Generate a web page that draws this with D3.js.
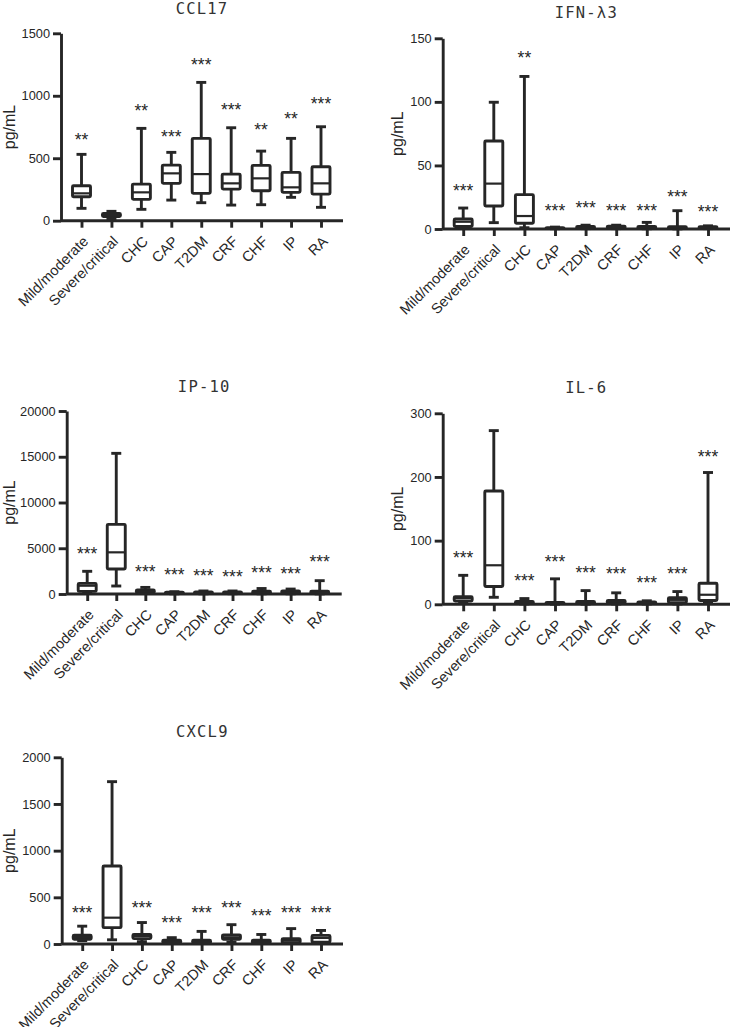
<!DOCTYPE html>
<html>
<head>
<meta charset="utf-8">
<script src="https://cdn.jsdelivr.net/npm/d3@7"></script>
<style>
  body { margin: 0; background: #fff; }
  svg { display: block; }
</style>
</head>
<body>
<div id="chart"></div>
<script>
// categories shared by every panel
const categories = ['Mild/moderate', 'Severe/critical', 'CHC', 'CAP', 'T2DM', 'CRF', 'CHF', 'IP', 'RA'];

// box stats per category: [min, q1, median, q3, max]
const ccl17Stats = [[99,192,219,280,531],[15,33,45,58,75],[91,171,227,293,739],[165,299,379,445,547],
  [144,219,373,659,1107],[125,253,299,373,744],[128,240,339,443,557],[187,227,267,387,659],[107,213,299,432,752]];
const ccl17Stars = ['**','','**','***','***','***','**','**','***'];
const ccl17StarY = [677,0,907,704,1280,917,757,845,965];
const ccl17Ticks = [0,500,1000,1500];

const ifnStats = [[0.8,2,5.7,7.9,16.5],[5,18.1,35.7,69.2,99.7],[1,4.5,10.2,27,120],[0.2,0.4,0.7,1,1.5],
  [0.3,0.8,1.3,2,3],[0.3,1,1.5,2.2,3],[0.2,0.7,1.2,2,5.2],[0.1,0.5,1,1.8,14.4],[0.3,0.8,1.2,1.8,2.5]];
const ifnStars = ['***','','**','***','***','***','***','***','***'];
const ifnStarY = [33.3,0,137.4,17.6,19.7,17.6,17.6,28.6,16.3];
const ifnTicks = [0,50,100,150];

const ip10Stats = [[100,284,907,1158,2480],[874,2732,4554,7614,15373],[50,150,250,437,720],[20,70,120,200,250],
  [20,80,140,220,330],[30,90,150,220,330],[20,100,170,300,600],[20,100,200,320,540],[10,70,150,300,1457]];
const ip10Stars = ['***','','***','***','***','***','***','***','***'];
const ip10StarY = [4809,0,2805,2514,2441,2259,2696,2587,3971];
const ip10Ticks = [0,5000,10000,15000,20000];

const il6Stats = [[2.5,5,9.4,12,45.5],[11,28,61.3,178,272.8],[0.5,1.5,3,4.5,9],[0.3,1,2,3,40],
  [0.3,1.5,3,4.5,21.5],[0.5,2,4,6,18],[0.5,1.5,2.5,3.5,5.5],[0.5,2.5,7,10.5,20],[2,6,15,33,207]];
const il6Stars = ['***','','***','***','***','***','***','***','***'];
const il6StarY = [79,0,43.5,72.3,55,54,39.3,54,238];
const il6Ticks = [0,100,200,300];

const cxcl9Stats = [[36,50,75,95,191],[45,175,282,836,1739],[25,58,86,102,230],[5,10,25,40,68],
  [5,10,25,40,135],[20,50,72,98,207],[5,10,25,42,102],[5,12,35,58,165],[5,20,65,92,145]];
const cxcl9Stars = ['***','','***','***','***','***','***','***','***'];
const cxcl9StarY = [371,0,429,271,371,429,339,371,371];
const cxcl9Ticks = [0,500,1000,1500,2000];

const W = 731, H = 1027;
const ink = '#262626';
const sans = '"Liberation Sans", Arial, sans-serif';

const panels = [
  { title: 'CCL17', stats: ccl17Stats, stars: ccl17Stars, starY: ccl17StarY, ticks: ccl17Ticks,
    x0: 61, xEnd: 343, yZero: 220.7, yTop: 33.3, titleY: 14, labelX: 9 },
  { title: 'IFN-\u03bb3', stats: ifnStats, stars: ifnStars, starY: ifnStarY, ticks: ifnTicks,
    x0: 442.7, xEnd: 730, yZero: 229, yTop: 38.3, titleY: 17.5, labelX: 397 },
  { title: 'IP-10', stats: ip10Stats, stars: ip10Stars, starY: ip10StarY, ticks: ip10Ticks,
    x0: 66.7, xEnd: 341.7, yZero: 594, yTop: 411, titleY: 392, labelX: 9 },
  { title: 'IL-6', stats: il6Stats, stars: il6Stars, starY: il6StarY, ticks: il6Ticks,
    x0: 442.7, xEnd: 730, yZero: 604.3, yTop: 413.3, titleY: 393, labelX: 397 },
  { title: 'CXCL9', stats: cxcl9Stats, stars: cxcl9Stars, starY: cxcl9StarY, ticks: cxcl9Ticks,
    x0: 61.7, xEnd: 343, yZero: 944, yTop: 757.3, titleY: 737, labelX: 9 }
];

const svg = d3.select('#chart').append('svg')
  .attr('width', W).attr('height', H);

const boxW = 18, capW = 10, sw = 2.9;

panels.forEach(p => {
  const g = svg.append('g');
  const ticks = p.ticks;
  const y = d3.scaleLinear().domain([0, ticks[ticks.length - 1]]).range([p.yZero, p.yTop]);
  const x = d3.scalePoint().domain(categories).range([p.x0 + 20.5, p.xEnd - 22]);

  // title
  g.append('text')
    .attr('x', (p.x0 + p.xEnd) / 2).attr('y', p.titleY)
    .attr('text-anchor', 'middle')
    .style('font-family', '"DejaVu Sans Mono", monospace')
    .style('font-size', '15.5px')
    .style('letter-spacing', '1.2px')
    .attr('fill', '#333')
    .text(p.title);

  // y axis
  const ya = g.append('g').attr('transform', `translate(${p.x0},0)`)
    .call(d3.axisLeft(y).tickValues(ticks).tickSize(8).tickSizeOuter(0).tickPadding(3).tickFormat(d3.format('d')));
  ya.select('.domain').attr('stroke', ink).attr('stroke-width', sw);
  ya.selectAll('.tick line').attr('stroke', ink).attr('stroke-width', sw);
  ya.selectAll('.tick text')
    .style('font-family', sans)
    .style('font-size', '12.8px').attr('fill', ink);

  // x axis
  const xa = g.append('g').attr('transform', `translate(0,${p.yZero})`)
    .call(d3.axisBottom(x).tickSize(7).tickSizeOuter(0).tickFormat(''));
  xa.select('.domain').remove();
  xa.selectAll('.tick line').attr('stroke', ink).attr('stroke-width', sw);
  g.append('line')
    .attr('x1', p.x0).attr('x2', p.xEnd)
    .attr('y1', p.yZero).attr('y2', p.yZero)
    .attr('stroke', ink).attr('stroke-width', sw);

  g.selectAll('.xlab').data(categories).enter().append('text')
    .attr('class', 'xlab')
    .attr('transform', d => `translate(${x(d) + 4},${p.yZero + 18}) rotate(-45)`)
    .attr('text-anchor', 'end')
    .attr('dy', '0.35em')
    .style('font-family', sans)
    .style('font-size', '14.5px')
    .attr('fill', ink)
    .text(d => d);

  // y label
  g.append('text')
    .attr('transform', `translate(${p.labelX},${(p.yZero + p.yTop) / 2}) rotate(-90)`)
    .attr('text-anchor', 'middle')
    .attr('dy', '0.35em')
    .style('font-family', sans)
    .style('font-size', '16px')
    .attr('fill', ink)
    .text('pg/mL');

  // boxes
  const boxes = g.selectAll('.box').data(p.stats).enter().append('g')
    .attr('class', 'box')
    .attr('transform', (d, i) => `translate(${x(categories[i])},0)`);

  boxes.append('line').attr('y1', d => y(d[0])).attr('y2', d => y(d[1]))
    .attr('stroke', ink).attr('stroke-width', sw);
  boxes.append('line').attr('y1', d => y(d[3])).attr('y2', d => y(d[4]))
    .attr('stroke', ink).attr('stroke-width', sw);
  boxes.append('line').attr('x1', -capW / 2).attr('x2', capW / 2)
    .attr('y1', d => y(d[0])).attr('y2', d => y(d[0]))
    .attr('stroke', ink).attr('stroke-width', sw);
  boxes.append('line').attr('x1', -capW / 2).attr('x2', capW / 2)
    .attr('y1', d => y(d[4])).attr('y2', d => y(d[4]))
    .attr('stroke', ink).attr('stroke-width', sw);
  boxes.append('rect')
    .attr('x', -boxW / 2).attr('width', boxW)
    .attr('y', d => y(d[3])).attr('height', d => y(d[1]) - y(d[3]))
    .attr('fill', '#fff').attr('stroke', ink).attr('stroke-width', sw)
    .attr('rx', 1);
  boxes.append('line').attr('x1', -boxW / 2).attr('x2', boxW / 2)
    .attr('y1', d => y(d[2])).attr('y2', d => y(d[2]))
    .attr('stroke', ink).attr('stroke-width', 2.2);

  // significance stars
  g.selectAll('.star').data(p.stars).enter().append('text')
    .attr('class', 'star')
    .attr('x', (d, i) => x(categories[i]))
    .attr('y', (d, i) => y(p.starY[i]) + 10)
    .attr('text-anchor', 'middle')
    .style('font-family', sans)
    .style('font-size', '17.5px')
    .attr('fill', ink)
    .text(d => d);
});
</script>
</body>
</html>
